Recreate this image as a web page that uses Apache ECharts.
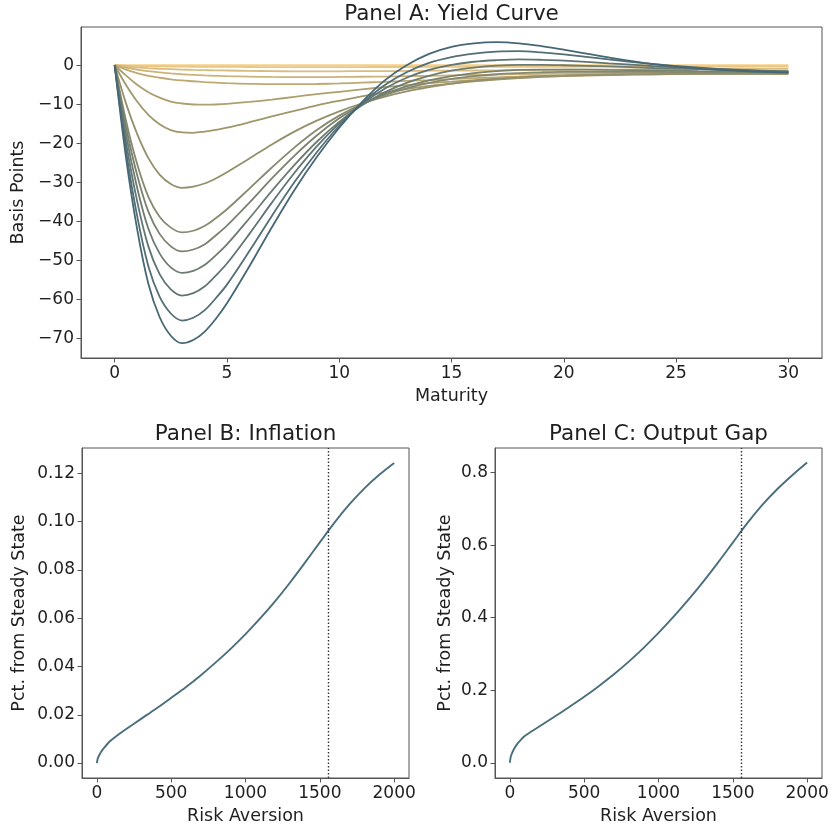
<!DOCTYPE html>
<html>
<head>
<meta charset="utf-8">
<script src="https://cdn.jsdelivr.net/npm/echarts@6/dist/echarts.min.js"></script>
<style>
  html, body { margin: 0; padding: 0; background: #ffffff; }
  #chart { width: 831px; height: 826px; }
</style>
</head>
<body>
<div id="chart"></div>
<script>
// ---- Panel A: yield curve responses (basis points) by maturity (years) ----
const maturities = [0, 0.5, 1, 1.5, 2, 2.5, 3, 3.5, 4, 4.5, 5, 6, 7, 8, 9, 10, 11, 12, 13, 14, 15, 16, 17, 18, 19, 20, 22, 24, 26, 28, 30];

const curve0  = [0, 0, 0, 0, 0, 0, 0, 0, 0, 0, 0, 0, 0, 0, 0, 0, 0, 0, 0, 0, 0, 0, 0, 0, 0, 0, 0, 0, 0, 0, 0];
const curve1  = [0, -0.1, -0.18, -0.24, -0.28, -0.32, -0.35, -0.38, -0.4, -0.415, -0.43, -0.45, -0.46, -0.47, -0.47, -0.47, -0.46, -0.45, -0.45, -0.44, -0.43, -0.42, -0.41, -0.4, -0.39, -0.38, -0.36, -0.34, -0.33, -0.32, -0.3];
const curve2  = [0, -0.3, -0.55, -0.75, -0.9, -1.0, -1.1, -1.2, -1.25, -1.3, -1.35, -1.45, -1.5, -1.55, -1.55, -1.55, -1.5, -1.5, -1.45, -1.4, -1.4, -1.35, -1.3, -1.25, -1.2, -1.15, -1.1, -1.0, -0.95, -0.9, -0.9];
const curve3  = [0, -0.6, -1.1, -1.5, -1.85, -2.1, -2.3, -2.45, -2.6, -2.7, -2.8, -2.9, -3.0, -3.05, -3.05, -3.0, -2.95, -2.9, -2.8, -2.7, -2.6, -2.5, -2.4, -2.3, -2.2, -2.1, -1.95, -1.8, -1.7, -1.6, -1.5];
const curve4  = [0, -1.1, -2.0, -2.7, -3.2, -3.6, -3.9, -4.1, -4.3, -4.45, -4.6, -4.75, -4.85, -4.85, -4.8, -4.65, -4.45, -4.25, -4.0, -3.8, -3.55, -3.3, -3.1, -2.9, -2.7, -2.6, -2.3, -2.1, -1.9, -1.8, -1.7];
const curve5  = [0, -2.6, -5.0, -6.9, -8.3, -9.3, -9.8, -10.05, -10.1, -10.05, -9.9, -9.4, -8.8, -8.1, -7.4, -6.8, -6.2, -5.6, -5.1, -4.6, -4.2, -3.8, -3.45, -3.15, -2.9, -2.7, -2.4, -2.2, -2.1, -2.0, -2.0];
const curve6  = [0, -5.0, -9.3, -12.7, -15.1, -16.6, -17.2, -17.3, -17.0, -16.55, -16.0, -14.6, -13.1, -11.7, -10.3, -9.1, -8.0, -7.0, -6.1, -5.3, -4.7, -4.1, -3.65, -3.3, -3.0, -2.8, -2.5, -2.3, -2.2, -2.2, -2.2];
const curve7  = [0, -9.7, -17.6, -23.8, -28.0, -30.4, -31.4, -31.1, -30.3, -29.0, -27.4, -23.9, -20.3, -17.0, -14.2, -11.8, -9.8, -8.1, -6.7, -5.6, -4.7, -4.0, -3.5, -3.1, -2.8, -2.6, -2.4, -2.3, -2.2, -2.2, -2.2];
const curve8  = [0, -14.1, -25.3, -33.7, -38.8, -41.6, -42.8, -42.4, -41.2, -39.2, -36.9, -31.6, -26.2, -21.1, -16.6, -12.9, -10.0, -7.7, -5.9, -4.5, -3.5, -2.8, -2.3, -2.0, -1.8, -1.7, -1.7, -1.7, -1.8, -1.8, -1.9];
const curve9  = [0, -15.7, -28.1, -37.5, -43.2, -46.4, -47.7, -47.2, -45.9, -43.6, -41.1, -35.2, -29.0, -23.2, -18.0, -13.6, -10.1, -7.4, -5.4, -3.9, -2.8, -2.0, -1.5, -1.2, -1.1, -1.1, -1.2, -1.3, -1.5, -1.6, -1.7];
const curve10 = [0, -17.6, -31.4, -41.9, -48.2, -51.8, -53.2, -52.7, -51.2, -48.7, -45.9, -39.2, -32.2, -25.6, -19.6, -14.5, -10.3, -7.0, -4.5, -2.7, -1.4, -0.6, -0.1, 0.1, 0.1, 0.0, -0.3, -0.7, -1.0, -1.3, -1.6];
const curve11 = [0, -19.5, -34.8, -46.4, -53.5, -57.4, -59.0, -58.4, -56.7, -53.9, -50.8, -43.2, -35.2, -27.6, -20.8, -14.9, -10.0, -6.1, -3.2, -1.2, 0.1, 0.9, 1.3, 1.5, 1.4, 1.2, 0.5, -0.2, -0.8, -1.2, -1.6];
const curve12 = [0, -21.6, -38.6, -51.5, -59.3, -63.6, -65.4, -64.7, -62.8, -59.7, -56.2, -47.6, -38.6, -30.0, -22.3, -15.5, -9.8, -5.2, -1.8, 0.6, 2.1, 3.0, 3.5, 3.6, 3.3, 2.8, 1.5, 0.3, -0.6, -1.3, -1.8];
const curve13 = [0, -23.5, -42.0, -56.0, -64.5, -69.3, -71.2, -70.4, -68.3, -65.0, -61.0, -51.5, -41.5, -32.0, -23.5, -16.0, -9.5, -4.0, 0.0, 2.9, 4.7, 5.6, 5.9, 5.6, 4.9, 4.0, 2.0, 0.3, -0.8, -1.5, -1.9];

const yieldCurves = [curve0, curve1, curve2, curve3, curve4, curve5, curve6, curve7,
                     curve8, curve9, curve10, curve11, curve12, curve13];

// ---- Panels B and C: responses against risk aversion ----
const riskAversion = [0, 5, 10, 25, 50, 75, 100, 150, 200, 300, 400, 500, 600, 700, 800, 900, 1000, 1100, 1200, 1300, 1400, 1500, 1600, 1700, 1800, 1900, 2000];
const inflation    = [0, 0.0017, 0.0025, 0.0043, 0.0064, 0.0082, 0.0096, 0.0120, 0.0142, 0.0184, 0.0226, 0.0270, 0.0315, 0.0364, 0.0417, 0.0473, 0.0534, 0.0600, 0.0671, 0.0748, 0.0830, 0.0914, 0.0997, 0.1072, 0.1138, 0.1194, 0.1243];
const outputGap    = [0, 0.015, 0.022, 0.036, 0.052, 0.064, 0.074, 0.0875, 0.1005, 0.127, 0.154, 0.182, 0.212, 0.244, 0.279, 0.317, 0.358, 0.402, 0.449, 0.499, 0.552, 0.607, 0.662, 0.712, 0.755, 0.793, 0.828];
const riskAversionMarker = 1558;

// ---- tick labels ----
const maturityTicks = [0, 5, 10, 15, 20, 25, 30];
const basisPointTicks = [-70, -60, -50, -40, -30, -20, -10, 0];
const riskTicks = [0, 500, 1000, 1500, 2000];
const inflationTicks = [0, 0.02, 0.04, 0.06, 0.08, 0.10, 0.12];
const outputGapTicks = [0, 0.2, 0.4, 0.6, 0.8];

// ---- styling ----
const FONT = 'DejaVu Sans';
const TEXT = '#1f1f1f';
const FRAME = '#555555';
const LINE_B = '#4b6e7c';

// colour ramp from light orange through khaki to slate
const stops = [
  [0.00, [246, 208, 136]],
  [0.45, [162, 152, 106]],
  [1.00, [70, 103, 118]]
];
function ramp(t) {
  for (let i = 0; i < stops.length - 1; i++) {
    const [t0, c0] = stops[i], [t1, c1] = stops[i + 1];
    if (t <= t1) {
      const f = (t - t0) / (t1 - t0);
      const c = c0.map((v, k) => Math.round(v + (c1[k] - v) * f));
      return 'rgb(' + c.join(',') + ')';
    }
  }
  return 'rgb(' + stops[stops.length - 1][1].join(',') + ')';
}

const minusFmt = v => (v < 0 ? '\u2212' + Math.abs(v) : String(v));

function valueAxis(opts) {
  return {
    type: 'value',
    gridIndex: opts.grid,
    min: opts.min,
    max: opts.max,
    position: opts.position,
    axisLine: { show: true, onZero: false, lineStyle: { color: FRAME, width: 1 } },
    axisTick: { show: true, length: 4.5, inside: false, customValues: opts.ticks,
                lineStyle: { color: FRAME, width: 1 } },
    axisLabel: { show: true, customValues: opts.ticks, formatter: opts.fmt || (v => String(v)),
                 fontFamily: FONT, fontSize: 17, color: TEXT, margin: opts.margin || 7 },
    splitLine: { show: false },
    name: opts.name,
    nameLocation: 'middle',
    nameGap: opts.nameGap,
    nameTextStyle: { fontFamily: FONT, fontSize: 17.5, color: TEXT }
  };
}

const grids = [
  { left: 81, top: 27, width: 741, height: 331 },
  { left: 82, top: 448, width: 327, height: 330 },
  { left: 495, top: 448, width: 327, height: 330 }
].map(g => Object.assign({ show: true, borderColor: FRAME, borderWidth: 1,
                           backgroundColor: 'transparent', containLabel: false,
                           outerBoundsMode: 'none' }, g));

const xAxes = [
  valueAxis({ grid: 0, min: -1.5, max: 31.5, ticks: maturityTicks, position: 'bottom',
              name: 'Maturity', nameGap: 29 }),
  valueAxis({ grid: 1, min: -100, max: 2100, ticks: riskTicks, position: 'bottom',
              name: 'Risk Aversion', nameGap: 29 }),
  valueAxis({ grid: 2, min: -100, max: 2100, ticks: riskTicks, position: 'bottom',
              name: 'Risk Aversion', nameGap: 29 })
];
const yAxes = [
  valueAxis({ grid: 0, min: -75, max: 9.8, ticks: basisPointTicks, position: 'left', fmt: minusFmt,
              name: 'Basis Points', nameGap: 46 }),
  valueAxis({ grid: 1, min: -0.0062, max: 0.1305, ticks: inflationTicks, position: 'left',
              fmt: v => v.toFixed(2), name: 'Pct. from Steady State', nameGap: 54 }),
  valueAxis({ grid: 2, min: -0.042, max: 0.868, ticks: outputGapTicks, position: 'left',
              fmt: v => v.toFixed(1), name: 'Pct. from Steady State', nameGap: 41 })
];

const series = [];
yieldCurves.forEach((curve, i) => {
  series.push({
    type: 'line',
    xAxisIndex: 0, yAxisIndex: 0,
    data: maturities.map((m, k) => [m, curve[k]]),
    showSymbol: false,
    smooth: 0.35,
    silent: true,
    lineStyle: { color: ramp(i / (yieldCurves.length - 1)), width: 1.8 },
    z: 2 + i
  });
});

function responseSeries(axisIndex, values) {
  return {
    type: 'line',
    xAxisIndex: axisIndex, yAxisIndex: axisIndex,
    data: riskAversion.map((r, k) => [r, values[k]]),
    showSymbol: false,
    smooth: 0.35,
    silent: true,
    lineStyle: { color: LINE_B, width: 1.9 },
    markLine: {
      symbol: 'none', silent: true, animation: false,
      label: { show: false },
      lineStyle: { color: '#333333', width: 1.4, type: [1.5, 2] },
      data: [{ xAxis: riskAversionMarker }]
    }
  };
}
series.push(responseSeries(1, inflation));
series.push(responseSeries(2, outputGap));

const titleStyle = { fontFamily: FONT, fontSize: 21.5, fontWeight: 'normal', color: TEXT };
const option = {
  animation: false,
  backgroundColor: '#ffffff',
  textStyle: { fontFamily: FONT },
  title: [
    { text: 'Panel A: Yield Curve', left: 451.5, top: 3, padding: 0, textAlign: 'center', textStyle: titleStyle },
    { text: 'Panel B: Inflation', left: 245.5, top: 423, padding: 0, textAlign: 'center', textStyle: titleStyle },
    { text: 'Panel C: Output Gap', left: 658.5, top: 423, padding: 0, textAlign: 'center', textStyle: titleStyle }
  ],
  grid: grids,
  xAxis: xAxes,
  yAxis: yAxes,
  series: series
};

const chart = echarts.init(document.getElementById('chart'), null, { renderer: 'canvas' });
chart.setOption(option);
</script>
</body>
</html>
